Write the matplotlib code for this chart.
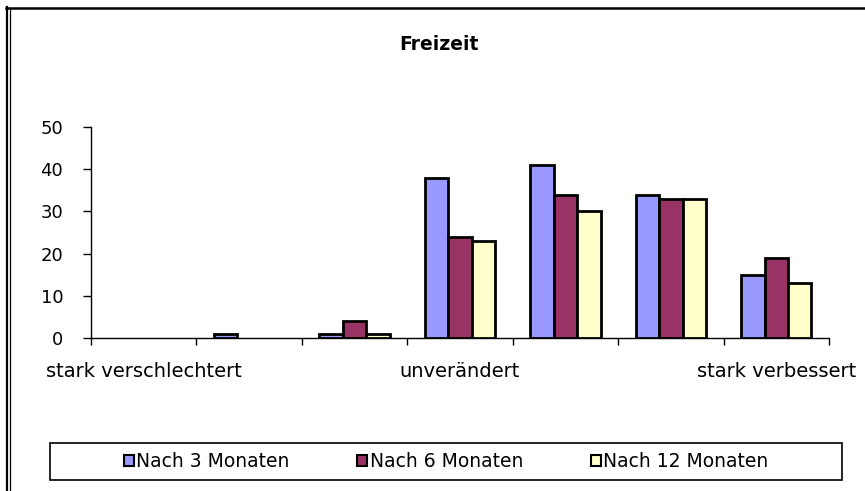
import numpy as np
import matplotlib.pyplot as plt
from matplotlib.patches import Rectangle
from matplotlib.lines import Line2D

# ── Daten ─────────────────────────────────────────────────
kategorien = ["stark verschlechtert", "", "", "unverändert", "", "", "stark verbessert"]
serien = ["Nach 3 Monaten", "Nach 6 Monaten", "Nach 12 Monaten"]
nach_3 = [0, 1, 1, 38, 41, 34, 15]
nach_6 = [0, 0, 4, 24, 34, 33, 19]
nach_12 = [0, 0, 1, 23, 30, 33, 13]
farben = ["#9999FF", "#993366", "#FFFFCC"]

plt.rcParams['font.family'] = ['DejaVu Sans']

fig = plt.figure(figsize=(8.65, 4.91), dpi=100)
ax = fig.add_axes([91 / 865, 1 - 338 / 491, (829 - 91) / 865, (338 - 127) / 491])

x = np.arange(1, len(kategorien) + 1)
breite = 0.222
for i, (werte, name) in enumerate(zip([nach_3, nach_6, nach_12], serien)):
    lw = [2.0 if v > 0 else 0 for v in werte]
    ax.bar(x + (i - 1) * breite, werte, breite, color=farben[i],
           edgecolor="black", linewidth=lw, label=name, zorder=3)

# ── Achsen ────────────────────────────────────────────────
ax.set_xlim(0.5, len(kategorien) + 0.5)
ax.set_ylim(0, 50)
ax.set_yticks([0, 10, 20, 30, 40, 50])
ax.tick_params(axis="y", length=6, width=1, pad=14, labelsize=13, direction="out")

ax.set_xticks(x)
ax.set_xticklabels(kategorien, fontsize=14)
ax.set_xticks(np.arange(0.5, len(kategorien) + 1), minor=True)
ax.tick_params(axis="x", which="major", length=0, pad=17)
ax.tick_params(axis="x", which="minor", length=5, width=1, direction="out")

for s in ["top", "right"]:
    ax.spines[s].set_visible(False)
for s in ["left", "bottom"]:
    ax.spines[s].set_linewidth(1)
    ax.spines[s].set_color("black")

fig.text(439 / 865, 1 - 44 / 491, "Freizeit", ha="center", va="center",
         fontsize=13.5, fontweight="bold")

# ── Legende ───────────────────────────────────────────────
fig.patches.append(Rectangle((50 / 865, 1 - 480 / 491), (842 - 50) / 865, (480 - 443) / 491,
                             transform=fig.transFigure, fill=False,
                             edgecolor="black", linewidth=1.2))
handles, labels = ax.get_legend_handles_labels()
leg = fig.legend(handles, labels, loc="center", ncol=3,
                 bbox_to_anchor=(446 / 865, 1 - 461.5 / 491), frameon=False,
                 fontsize=13.5, handlelength=0.55, handleheight=0.55,
                 handletextpad=0.12, columnspacing=3.6)
for h in leg.legend_handles:
    h.set_linewidth(1.5)

# ── Rahmen ────────────────────────────────────────────────
fig.add_artist(Line2D([6 / 865, 1], [1 - 7.5 / 491, 1 - 7.5 / 491],
                      transform=fig.transFigure, color="black", linewidth=1.8))
fig.add_artist(Line2D([6.5 / 865, 6.5 / 865], [0, 1 - 7 / 491],
                      transform=fig.transFigure, color="black", linewidth=1.6))
fig.add_artist(Line2D([10 / 865, 10 / 865], [0, 1 - 10 / 491],
                      transform=fig.transFigure, color="black", linewidth=0.9))

fig.savefig("out.png", dpi=100)
